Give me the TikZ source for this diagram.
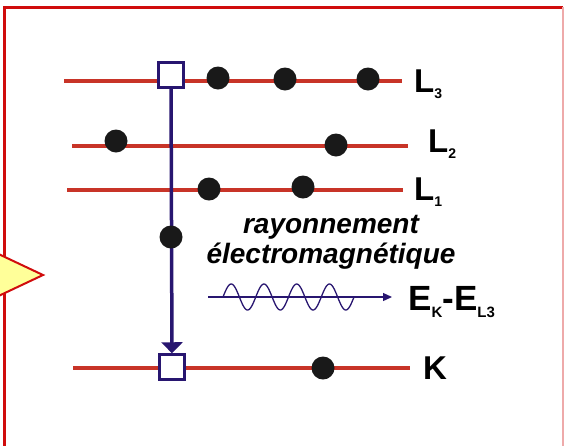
\documentclass[tikz,border=0pt]{standalone}
\usepackage{fontspec}
\setmainfont{Liberation Sans}
\usepackage{xcolor}
\usetikzlibrary{arrows.meta}

\definecolor{cornice}{RGB}{208,12,12}
\definecolor{livello}{RGB}{200,52,40}
\definecolor{blu}{RGB}{40,22,112}
\definecolor{giallo}{RGB}{255,255,153}

% etichetta con pedice
\newcommand{\etich}[2]{#1\raisebox{-6pt}{\fontsize{14}{14}\selectfont #2}}

\begin{document}
\begin{tikzpicture}[x=1pt, y=-1pt,
  liv/.style={livello, line width=3.5pt},
  elettrone/.style={circle, fill=black!90, inner sep=0pt, minimum size=23pt},
  lacuna/.style={draw=blu, fill=white, line width=2.5pt, inner sep=0pt, minimum size=25pt},
  lab/.style={inner sep=0pt, anchor=base west, font=\fontsize{33}{33}\selectfont\bfseries},
  testo/.style={inner sep=0pt, anchor=base, font=\fontsize{28}{28}\selectfont\bfseries\itshape}]

\useasboundingbox (0,0) rectangle (564,445);

% Cornice
\draw[cornice, line width=3pt] (4,460) -- (4,7) -- (563,7);
\draw[cornice!35, line width=1.5pt] (563,7) -- (563,460);

% Freccia gialla
\draw[cornice, line width=2pt, fill=giallo, line join=miter] (-10,250) -- (43,275) -- (-10,300);

% Livelli
\draw[liv] (64,81) -- (402,81);
\draw[liv] (72,146) -- (408,146);
\draw[liv] (67,190) -- (403,190);
\draw[liv] (73,368) -- (410,368);

% Lacune
\node[lacuna] (h3) at (171,75) {};
\node[lacuna] (hK) at (172,367) {};

% Transizione L3 -> K
\draw[blu, line width=3.5pt, -{Triangle[width=21pt,length=11pt]}] (h3) -- (hK);

% Elettroni
\node[elettrone] (e31) at (218,78) {};
\node[elettrone] (e32) at (285,79) {};
\node[elettrone] (e33) at (368,79) {};
\node[elettrone] (e21) at (116,141) {};
\node[elettrone] (e22) at (336,145) {};
\node[elettrone] (e11) at (209,189) {};
\node[elettrone] (e12) at (303,187) {};
\node[elettrone] (em) at (171,237) {};
\node[elettrone] (eK) at (323,368) {};

% Etichette
\node[lab] (L3) at (414,92) {\etich{L}{3}};
\node[lab] (L2) at (428,152) {\etich{L}{2}};
\node[lab] (L1) at (414,200) {\etich{L}{1}};
\node[lab] (K) at (423,379) {K};

% Fotone
\node[testo] (rad1) at (331,233) {rayonnement};
\node[testo] (rad2) at (331,263) {électromagnétique};
\coordinate (ondaA) at (208,297);
\coordinate (ondaB) at (392,297);
\draw[blu, line width=1.3pt, -{Triangle[width=8pt,length=9pt]}] (ondaA) -- (ondaB);
\draw[blu, line width=1.3pt] plot[domain=0:131, samples=150] ({223+\x}, {297-13*sin(\x*10.992)});
\node[lab, font=\fontsize{35}{35}\selectfont\bfseries] (EK) at (408,310)
  {E\raisebox{-7pt}{\fontsize{15}{15}\selectfont K}-E\raisebox{-7pt}{\fontsize{15}{15}\selectfont L3}};

\end{tikzpicture}
\end{document}
